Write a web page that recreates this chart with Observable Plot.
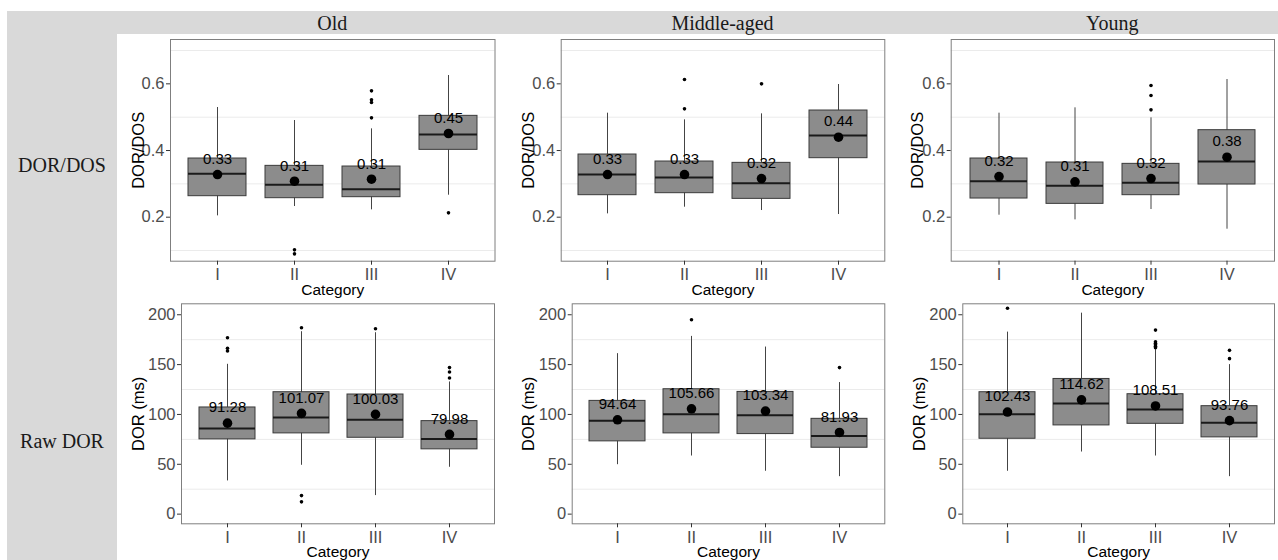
<!DOCTYPE html>
<html>
<head>
<meta charset="utf-8">
<script src="https://cdn.jsdelivr.net/npm/d3@7"></script>
<script src="https://cdn.jsdelivr.net/npm/@observablehq/plot@0.6"></script>
<style>
  html, body { margin: 0; padding: 0; background: #fff; }
  #chart { position: relative; width: 1278px; height: 560px; overflow: hidden; background: #fff; }
  .band { position: absolute; background: #d9d9d9; }
  .strip { position: absolute; font-family: "Liberation Serif", "Times New Roman", serif; font-size: 20px; color: #1a1a1a; white-space: nowrap; transform: translate(-50%, -50%); line-height: 1; }
  .panel { position: absolute; }
</style>
</head>
<body>
<div id="chart"></div>
<script>
// ---------- data ----------
const categories = ["I", "II", "III", "IV"];
const ageGroups = ["Old", "Middle-aged", "Young"];
const measures = ["DOR/DOS", "Raw DOR"];
const yTitles = ["DOR/DOS", "DOR (ms)"];
const ratioTicks = [0.2, 0.4, 0.6];
const ratioGrid = [0.1, 0.3, 0.5, 0.7];
const rawTicks = [0, 50, 100, 150, 200];
const rawGrid = [25, 75, 125, 175];

// each row: [whisker low, Q1, median, Q3, whisker high, mean]
const ratioOld = [
  [0.204, 0.263, 0.330, 0.376, 0.529, 0.328],
  [0.232, 0.257, 0.297, 0.354, 0.490, 0.308],
  [0.222, 0.260, 0.284, 0.352, 0.465, 0.314],
  [0.266, 0.402, 0.448, 0.504, 0.625, 0.451]
];
const ratioOldOutliers = [["II", 0.102], ["II", 0.090], ["III", 0.579], ["III", 0.552], ["III", 0.544], ["III", 0.498], ["IV", 0.213]];

const ratioMiddle = [
  [0.210, 0.266, 0.328, 0.388, 0.512, 0.328],
  [0.230, 0.272, 0.319, 0.367, 0.492, 0.328],
  [0.220, 0.255, 0.302, 0.363, 0.510, 0.316],
  [0.208, 0.377, 0.445, 0.520, 0.598, 0.440]
];
const ratioMiddleOutliers = [["II", 0.613], ["II", 0.525], ["III", 0.600]];

const ratioYoung = [
  [0.206, 0.256, 0.308, 0.376, 0.512, 0.322],
  [0.192, 0.240, 0.294, 0.364, 0.528, 0.306],
  [0.223, 0.266, 0.303, 0.360, 0.498, 0.316],
  [0.164, 0.298, 0.367, 0.461, 0.613, 0.380]
];
const ratioYoungOutliers = [["III", 0.595], ["III", 0.565], ["III", 0.522]];

const rawOld = [
  [33.3, 75.0, 86.0, 107.0, 150.3, 91.28],
  [49.0, 81.0, 97.0, 122.3, 183.0, 101.07],
  [18.6, 76.6, 94.6, 120.0, 182.0, 100.03],
  [47.0, 65.0, 75.3, 93.3, 132.6, 79.98]
];
const rawOldOutliers = [["I", 177], ["I", 166.3], ["I", 163.7], ["II", 187], ["II", 18.6], ["II", 12.3], ["III", 186], ["IV", 147], ["IV", 142.6], ["IV", 136.6]];

const rawMiddle = [
  [49.6, 73.0, 93.6, 113.6, 161.0, 94.64],
  [58.3, 81.0, 100.3, 125.3, 178.3, 105.66],
  [43.0, 80.3, 99.3, 122.6, 167.6, 103.34],
  [37.6, 66.6, 78.3, 95.6, 132.0, 81.93]
];
const rawMiddleOutliers = [["II", 195], ["IV", 147]];

const rawYoung = [
  [43.0, 75.6, 100.3, 122.3, 182.6, 102.43],
  [62.3, 89.0, 111.0, 135.6, 201.6, 114.62],
  [58.3, 90.6, 105.0, 120.3, 165.0, 108.51],
  [37.6, 77.0, 91.6, 108.3, 150.0, 93.76]
];
const rawYoungOutliers = [["I", 206.6], ["III", 167], ["III", 168.5], ["III", 170], ["III", 171.5], ["III", 173], ["III", 184.6], ["IV", 164.3], ["IV", 156]];

// ---------- layout (pixels) ----------
const cellsX = [[117, 505], [505, 895], [895, 1278]];
const cellsY = [[34, 298], [298, 560]];
const framesX = [
  [[170, 494.5], [560.7, 884.3], [950.7, 1274]],
  [[181, 494], [571.7, 884.3], [962.3, 1274]]
];
const framesY = [[39, 260.7], [303.3, 523.3]];
const yDomains = [[0.068, 0.733], [-9.7, 211]];
const yTitleOffsets = [[-32, -32.7, -33], [-43, -43.4, -43.4]];

const panelData = [
  [[ratioOld, ratioOldOutliers], [ratioMiddle, ratioMiddleOutliers], [ratioYoung, ratioYoungOutliers]],
  [[rawOld, rawOldOutliers], [rawMiddle, rawMiddleOutliers], [rawYoung, rawYoungOutliers]]
];
const rowTicks = [ratioTicks, rawTicks];
const rowGrid = [ratioGrid, rawGrid];

const chart = document.getElementById("chart");

function addDiv(cls, styles, text) {
  const d = document.createElement("div");
  d.className = cls;
  Object.assign(d.style, styles);
  if (text != null) d.textContent = text;
  chart.appendChild(d);
  return d;
}

// gray strips
addDiv("band", {left: "7px", top: "11px", width: "1271px", height: "23px"});
addDiv("band", {left: "7px", top: "11px", width: "110px", height: "549px"});

ageGroups.forEach((g, c) => {
  const fx = framesX[0][c];
  addDiv("strip", {left: ((fx[0] + fx[1]) / 2) + "px", top: "23px"}, g);
});
const rowLabelY = [165, 441];
measures.forEach((m, r) => {
  addDiv("strip", {left: "62px", top: rowLabelY[r] + "px"}, m);
});

const fmt = d3.format(".2f");

for (let r = 0; r < 2; r++) {
  for (let c = 0; c < 3; c++) {
    const [rows, outs] = panelData[r][c];
    const stats = rows.map((v, i) => ({cat: categories[i], lo: v[0], q1: v[1], median: v[2], q3: v[3], hi: v[4], mean: v[5]}));
    const outliers = outs.map(([cat, v]) => ({cat, v}));
    const [cx0, cx1] = cellsX[c];
    const [cy0, cy1] = cellsY[r];
    const [fx0, fx1] = framesX[r][c];
    const [fy0, fy1] = framesY[r];
    const svg = Plot.plot({
      width: cx1 - cx0,
      height: cy1 - cy0,
      marginLeft: fx0 - cx0,
      marginRight: cx1 - fx1,
      marginTop: fy0 - cy0,
      marginBottom: cy1 - fy1,
      style: {fontFamily: "'Liberation Sans', Arial, sans-serif", background: "none", overflow: "visible"},
      x: {type: "band", domain: categories, paddingInner: 0.25, paddingOuter: 0.225},
      y: {domain: yDomains[r]},
      marks: [
        Plot.ruleY(rowGrid[r], {stroke: "#ebebeb", strokeWidth: 1}),
        Plot.frame({stroke: "#7f7f7f", strokeWidth: 1}),
        Plot.axisY(rowTicks[r], {tickSize: 4, tickPadding: 2, fontSize: 16.5, stroke: "#333", fill: "#4d4d4d", label: null}),
        Plot.axisX({tickSize: 4, tickPadding: 3, fontSize: 16.5, stroke: "#333", fill: "#4d4d4d", label: null}),
        Plot.ruleX(stats, {x: "cat", y1: "lo", y2: "hi", stroke: "#444", strokeWidth: 1}),
        Plot.barY(stats, {x: "cat", y1: "q1", y2: "q3", fill: "#8c8c8c", stroke: "#3a3a3a", strokeWidth: 1}),
        Plot.tickY(stats, {x: "cat", y: "median", stroke: "#1a1a1a", strokeWidth: 2}),
        Plot.dot(outliers, {x: "cat", y: "v", r: 1.8, fill: "black", stroke: "none"}),
        Plot.dot(stats, {x: "cat", y: "mean", r: 4.8, fill: "black", stroke: "none"}),
        Plot.text(stats, {x: "cat", y: "mean", text: d => fmt(d.mean), dy: -15.5, fontSize: 15, fill: "black"}),
        Plot.text([yTitles[r]], {frameAnchor: "left", textAnchor: "middle", lineAnchor: "middle", rotate: -90, dx: yTitleOffsets[r][c], fontSize: 16.5, fill: "black"}),
        Plot.text(["Category"], {frameAnchor: "bottom", textAnchor: "middle", lineAnchor: "middle", dy: 28.5, fontSize: 15.5, fill: "black"})
      ]
    });
    svg.classList.add("panel");
    svg.style.left = cx0 + "px";
    svg.style.top = cy0 + "px";
    svg.style.position = "absolute";
    chart.appendChild(svg);
  }
}
</script>
</body>
</html>
